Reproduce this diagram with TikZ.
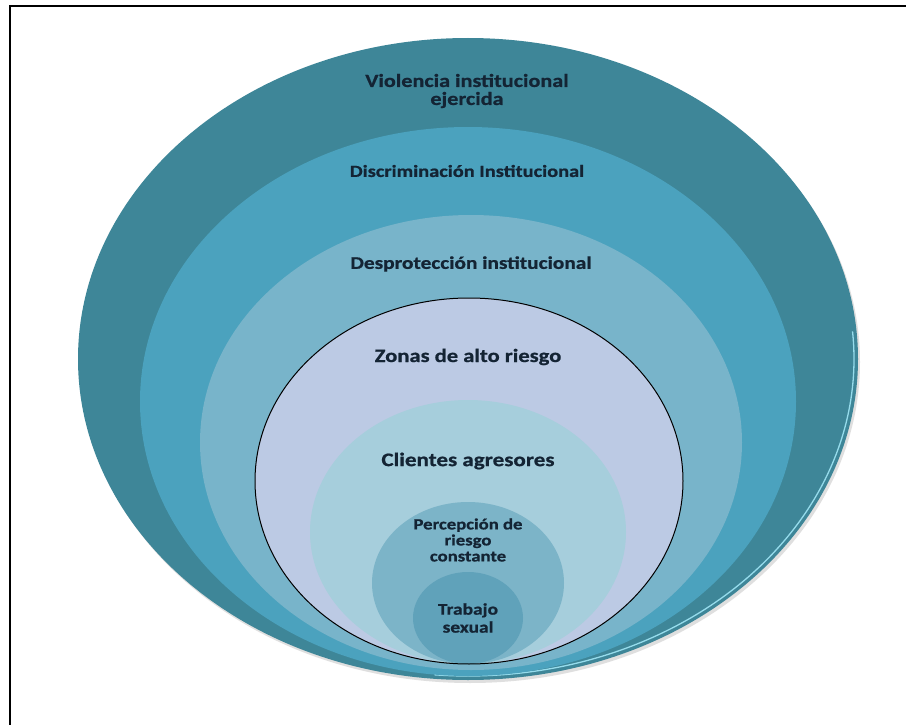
\documentclass[tikz,border=0pt]{standalone}
\usepackage{fontspec}
\setmainfont{Carlito}
\newfontfamily\lblfont{Carlito}[FakeStretch=1.2, BoldFeatures={FakeBold=0.8}]
\usetikzlibrary{shadows}
\definecolor{ringA}{RGB}{62,134,152}
\definecolor{ringB}{RGB}{75,162,190}
\definecolor{ringC}{RGB}{120,180,202}
\definecolor{ringD}{RGB}{188,202,228}
\definecolor{ringE}{RGB}{166,206,220}
\definecolor{ringF}{RGB}{124,180,200}
\definecolor{ringG}{RGB}{96,162,186}
\definecolor{txt}{RGB}{20,36,52}
\definecolor{rim}{RGB}{150,220,236}
\newcommand\lblsize[2]{\lblfont\bfseries\fontsize{#1}{#2}\selectfont}
\begin{document}
\begin{tikzpicture}[x=1pt,y=-1pt,
  lbl/.style={text=txt, align=center, inner sep=0pt},
  frameline/.style={line width=2pt, black}]
\useasboundingbox (0,0) rectangle (906,725);
\fill[white] (0,0) rectangle (906,725);
% frame
\draw[frameline] (10,725) -- (10,6) -- (906,6);
% rings
\fill[ringA, drop shadow={opacity=0.25, shadow xshift=2pt, shadow yshift=-3pt}] (468,359) ellipse [x radius=390pt, y radius=321pt];
\draw[rim, line width=1.3pt] (468,359) ++(-95:386pt and 317pt) arc[start angle=-95, end angle=5, x radius=386pt, y radius=317pt];
\fill[ringB] (468,401.5) ellipse [x radius=328pt, y radius=274.5pt];
\fill[ringC] (471,442.5) ellipse [x radius=271pt, y radius=227.5pt];
\fill[ringD] (469,481) ellipse [x radius=214pt, y radius=183pt];
\fill[ringE] (468,532) ellipse [x radius=158pt, y radius=132pt];
\fill[ringF] (468,583) ellipse [x radius=96pt, y radius=81pt];
\fill[ringG] (468,618) ellipse [x radius=55pt, y radius=46pt];
\draw[black, line width=1pt] (469,481) ellipse [x radius=214pt, y radius=183pt];
% labels
\node[lbl, font=\lblsize{18.5}{18}] (vio) at (467,91) {Violencia institucional\\ejercida};
\node[lbl, font=\lblsize{17}{18}] (dis) at (467,171) {Discriminación Institucional};
\node[lbl, font=\lblsize{17.8}{18}] (des) at (471,264) {Desprotección institucional};
\node[lbl, font=\lblsize{18.8}{20}] (zon) at (468,357) {Zonas de alto riesgo};
\node[lbl, font=\lblsize{19.2}{20}] (cli) at (468,461) {Clientes agresores};
\node[lbl, font=\lblsize{15.6}{16}] (per) at (468,540) {Percepción de\\riesgo\\constante};
\node[lbl, font=\lblsize{16.2}{18}] (tra) at (468,618) {Trabajo\\sexual};
\end{tikzpicture}
\end{document}
